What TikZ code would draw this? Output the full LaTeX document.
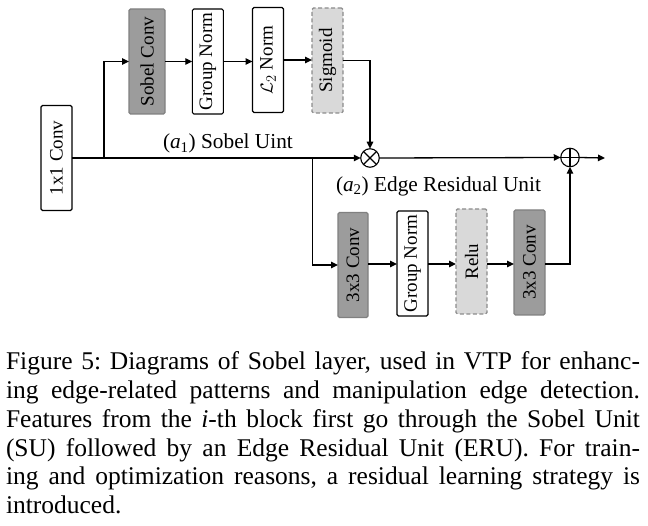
\documentclass[tikz,border=0pt]{standalone}
\usepackage{fontspec}
\setmainfont{Liberation Serif}
\usetikzlibrary{arrows.meta}
\begin{document}
\frenchspacing
\begin{tikzpicture}[x=1pt,y=-1pt,
  every node/.style={inner sep=0pt, outer sep=0pt},
  blk/.style={draw=black, line width=1.1pt, rounded corners=1.5pt, minimum width=31pt, minimum height=105pt, fill=white, font=\fontsize{19}{22}\selectfont},
  darkblk/.style={blk, draw=black!50, fill=black!39},
  lightblk/.style={blk, draw=black!45, dashed, dash pattern=on 4pt off 2.5pt, fill=black!15},
  arr/.style={line width=1.3pt, -{Triangle[length=7pt,width=6.5pt]}},
  ln/.style={line width=1.3pt},
  opc/.style={circle, draw, line width=1.1pt, minimum size=18.5pt},
  lbl/.style={font=\fontsize{21.3}{24}\selectfont, anchor=base west},
  capline/.style={font=\fontsize{25.5}{28.7}\selectfont, anchor=base west}
]
\useasboundingbox (0,0) rectangle (648,526);

% nodes
\node[blk] (conv1) at (56.5,158) {\rotatebox{90}{1x1 Conv}};
\node[darkblk, minimum width=36pt] (sobel) at (147,61.5) {\rotatebox{90}{Sobel Conv}};
\node[blk] (gn1) at (207.8,61.5) {\rotatebox{90}{Group Norm}};
\node[blk] (l2) at (268,60) {\rotatebox{90}{$\mathcal{L}_2$ Norm}};
\node[lightblk] (sig) at (327.5,60.5) {\rotatebox{90}{Sigmoid}};

\node[opc] (mul) at (370,158) {};
\draw[line width=1.1pt] (mul.45) -- (mul.225) (mul.135) -- (mul.315);
\node[opc] (add) at (570,157.5) {};
\draw[line width=1.1pt] (add.north) -- (add.south) (add.west) -- (add.east);

\node[darkblk, minimum width=30pt] (c3a) at (353,265) {\rotatebox{90}{3x3 Conv}};
\node[blk] (gn2) at (412.5,263.5) {\rotatebox{90}{Group Norm}};
\node[lightblk] (relu) at (471.5,261.5) {\rotatebox{90}{Relu}};
\node[darkblk] (c3b) at (529.5,262.5) {\rotatebox{90}{3x3 Conv}};

\coordinate (b1) at (104,158);
\coordinate (b2) at (312.5,158);
\coordinate (out) at (605,158);

% connectors
\draw[arr] (conv1.east) -- (mul.west);
\draw[arr] (b1) |- (sobel.west);
\draw[arr] (sobel.east) -- (sobel.east -| gn1.west);
\draw[arr] (gn1.east) -- (gn1.east -| l2.west);
\draw[arr] (l2.east) -- (l2.east -| sig.west);
\draw[arr] (sig.east) -| (mul.north);
\draw[arr] (mul.east) -- (add.west);
\draw[arr] (add.east) -- (out);
\draw[arr] (b2) |- (c3a.west);
\draw[arr] (c3a.east |- 0,264) -- (gn2.west |- 0,264);
\draw[arr] (gn2.east |- 0,264) -- (relu.west |- 0,264);
\draw[arr] (relu.east |- 0,264) -- (c3b.west |- 0,264);
\draw[arr] (c3b.east |- 0,264) -| (add.south);

% labels
\node[lbl] (la1) at (163,149) {(\textit{a}\textsubscript{1}) Sobel Uint};
\node[lbl] (la2) at (336,191.5) {(\textit{a}\textsubscript{2}) Edge Residual Unit};

% caption
\node[capline] (cap1) at (6,370) {\hbox to 634pt{Figure 5: Diagrams of Sobel layer, used in VTP for enhanc-}};
\node[capline] (cap2) at (6,398.7) {\hbox to 634pt{ing edge-related patterns and manipulation edge detection.}};
\node[capline] (cap3) at (6,427.4) {\hbox to 634pt{Features from the \textit{i}-th block first go through the Sobel Unit}};
\node[capline] (cap4) at (6,456.1) {\hbox to 634pt{(SU) followed by an Edge Residual Unit (ERU). For train-}};
\node[capline] (cap5) at (6,484.8) {\hbox to 634pt{ing and optimization reasons, a residual learning strategy is}};
\node[capline] (cap6) at (6,513.5) {introduced.};
\end{tikzpicture}
\end{document}
